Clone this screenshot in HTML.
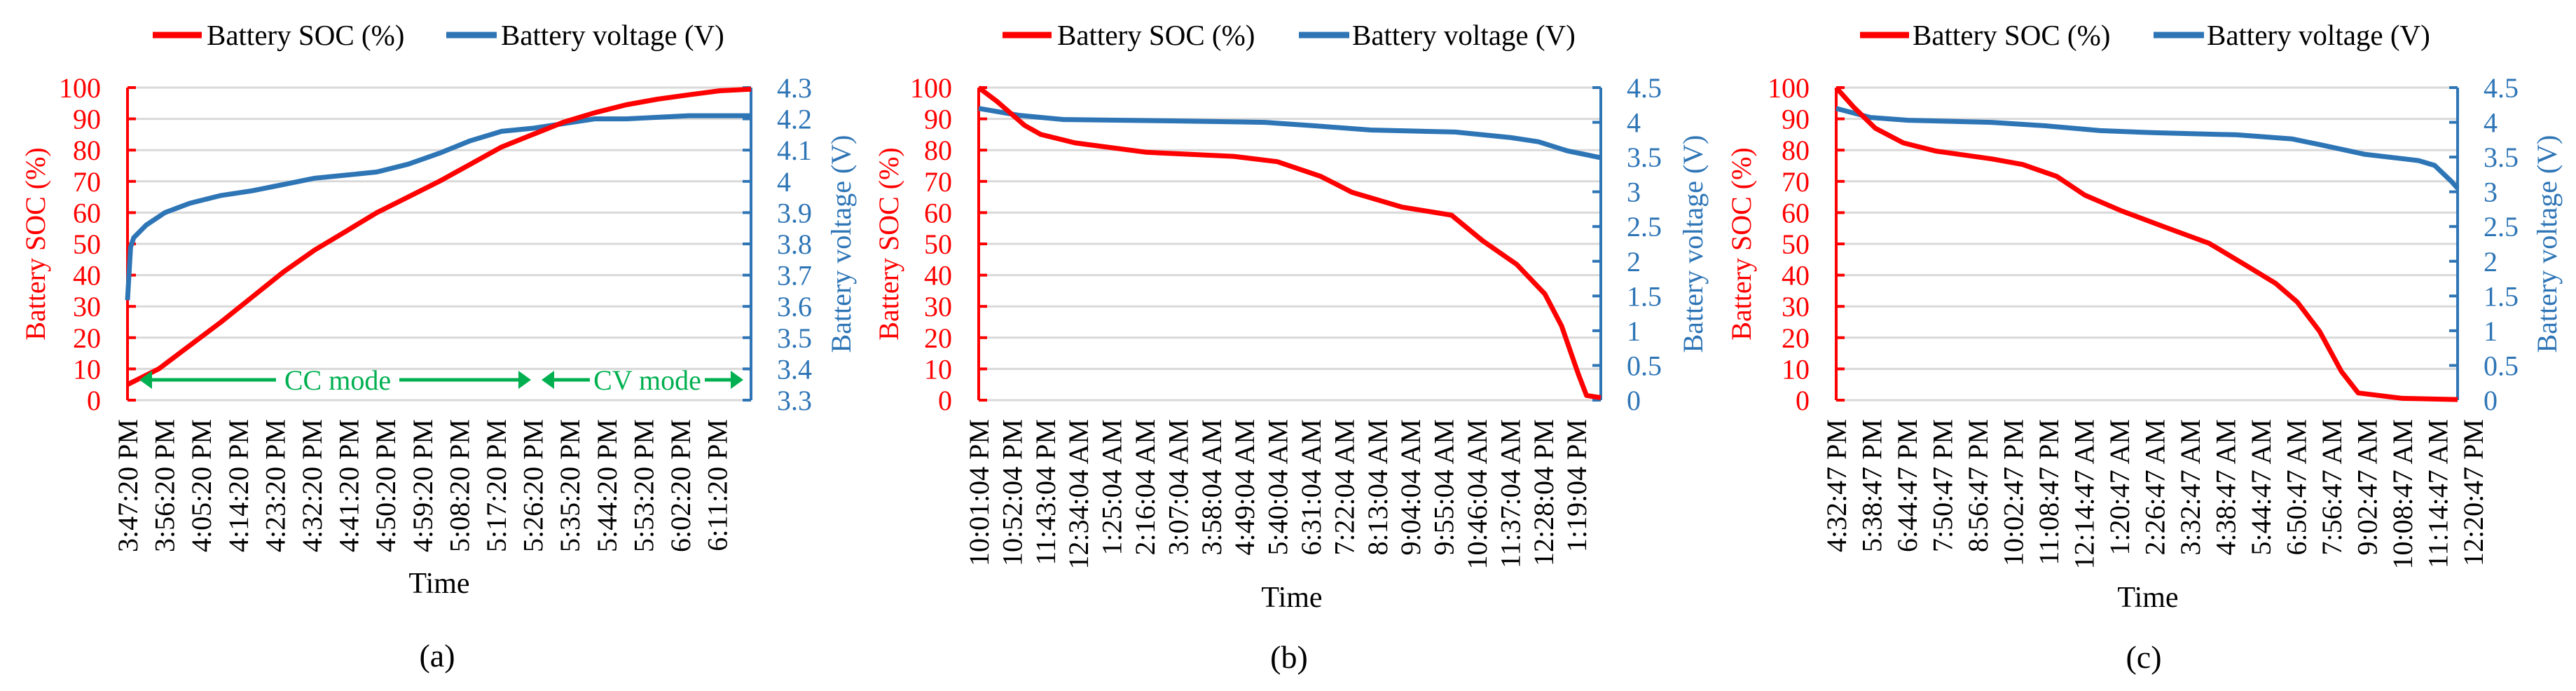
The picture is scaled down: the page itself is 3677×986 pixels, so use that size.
<!DOCTYPE html>
<html><head><meta charset="utf-8"><style>
html,body{margin:0;padding:0;background:#fff}
svg{display:block}
text{font-family:"Liberation Serif",serif}
</style></head><body>
<svg id="chart" width="3677" height="986" viewBox="0 0 3677 986" xmlns="http://www.w3.org/2000/svg"></svg>
<script>
// ---- Panel (a) data ----
const labelsA = ["3:47:20 PM","3:56:20 PM","4:05:20 PM","4:14:20 PM","4:23:20 PM","4:32:20 PM","4:41:20 PM","4:50:20 PM","4:59:20 PM","5:08:20 PM","5:17:20 PM","5:26:20 PM","5:35:20 PM","5:44:20 PM","5:53:20 PM","6:02:20 PM","6:11:20 PM"];
const socA_t = [0,0.05,0.1,0.15,0.2,0.25,0.3,0.35,0.4,0.45,0.5,0.55,0.6,0.65,0.7,0.75,0.8,0.85,0.9,0.95,1];
const socA_v = [5,10,17.5,25,33,41,48,54,60,65,70,75.5,81,85,89,92,94.5,96.3,97.7,99,99.5];
const voltA_t = [0,0.005,0.01,0.03,0.06,0.1,0.15,0.2,0.25,0.3,0.35,0.4,0.45,0.5,0.55,0.6,0.65,0.7,0.75,0.8,0.85,0.9,0.95,1];
const voltA_v = [3.62,3.79,3.82,3.86,3.90,3.93,3.955,3.97,3.99,4.01,4.02,4.03,4.055,4.09,4.13,4.16,4.17,4.185,4.20,4.20,4.205,4.21,4.21,4.21];
const rightTicksA = ["3.3","3.4","3.5","3.6","3.7","3.8","3.9","4","4.1","4.2","4.3"];
// ---- Panel (b) data ----
const labelsB = ["10:01:04 PM","10:52:04 PM","11:43:04 PM","12:34:04 AM","1:25:04 AM","2:16:04 AM","3:07:04 AM","3:58:04 AM","4:49:04 AM","5:40:04 AM","6:31:04 AM","7:22:04 AM","8:13:04 AM","9:04:04 AM","9:55:04 AM","10:46:04 AM","11:37:04 AM","12:28:04 PM","1:19:04 PM"];
const socB_t = [0,0.03,0.074,0.10,0.155,0.27,0.41,0.48,0.55,0.60,0.68,0.76,0.81,0.865,0.91,0.937,0.964,0.977,1];
const socB_v = [100,95.5,87.9,85,82.3,79.3,78,76.3,71.6,66.5,61.8,59.2,51,43.4,34,23.7,8.3,1.5,0.8];
const voltB_t = [0,0.065,0.137,0.32,0.46,0.54,0.63,0.766,0.856,0.90,0.946,1];
const voltB_v = [4.20,4.10,4.04,4.02,4.0,3.95,3.89,3.86,3.78,3.72,3.59,3.49];
// ---- Panel (c) data ----
const labelsC = ["4:32:47 PM","5:38:47 PM","6:44:47 PM","7:50:47 PM","8:56:47 PM","10:02:47 PM","11:08:47 PM","12:14:47 AM","1:20:47 AM","2:26:47 AM","3:32:47 AM","4:38:47 AM","5:44:47 AM","6:50:47 AM","7:56:47 AM","9:02:47 AM","10:08:47 AM","11:14:47 AM","12:20:47 PM"];
const socC_t = [0,0.028,0.063,0.108,0.16,0.25,0.30,0.355,0.40,0.46,0.53,0.60,0.654,0.707,0.742,0.778,0.813,0.84,0.91,1];
const socC_v = [100,93.8,87,82.3,79.7,77.2,75.4,71.6,65.6,60.5,55.3,50.2,43.8,37.4,31.4,22,9.2,2.3,0.6,0.2];
const voltC_t = [0,0.055,0.116,0.25,0.337,0.425,0.513,0.645,0.734,0.778,0.85,0.937,0.963,0.99,1];
const voltC_v = [4.20,4.07,4.03,4.0,3.95,3.88,3.85,3.82,3.76,3.68,3.54,3.45,3.38,3.15,3.05];
const rightTicksBC = ["0","0.5","1","1.5","2","2.5","3","3.5","4","4.5"];
const leftTicks = ["0","10","20","30","40","50","60","70","80","90","100"];

const NS = "http://www.w3.org/2000/svg";
const svg = document.getElementById('chart');
const RED = "#ff0000", BLUE = "#2e75b6", GREEN = "#00b050";
const TOP = 125, BOT = 571;
function mk(tag, attrs, parent){ const e=document.createElementNS(NS,tag); for(const k in attrs) e.setAttribute(k,attrs[k]); (parent||svg).appendChild(e); return e; }

const panels = [
 {id:"a", x0:182, x1:1072, labels:labelsA, labStep:52.6, rmin:3.3, rmax:4.3, rticks:rightTicksA,
  soc:[socA_t,socA_v], volt:[voltA_t,voltA_v], leg:[218,295,637,715], ltitle:50, rtitle:1200, time:[627,832], cap:[624,935]},
 {id:"b", x0:1397, x1:2285, labels:labelsB, labStep:47.4, rmin:0, rmax:4.5, rticks:rightTicksBC,
  soc:[socB_t,socB_v], volt:[voltB_t,voltB_v], leg:[1431,1509,1854,1930], ltitle:1268, rtitle:2416, time:[1844,852], cap:[1840,937]},
 {id:"c", x0:2621, x1:3508, labels:labelsC, labStep:50.5, rmin:0, rmax:4.5, rticks:rightTicksBC,
  soc:[socC_t,socC_v], volt:[voltC_t,voltC_v], leg:[2655,2730,3074,3150], ltitle:2485, rtitle:3635, time:[3066,852], cap:[3060,937]}
];

panels.forEach(p=>{
  const g = mk('g',{});
  
  
  const xs = t => p.x0 + t*(p.x1-p.x0);
  const yl = v => BOT - v/100*(BOT-TOP);
  const yr = v => BOT - (v-p.rmin)/(p.rmax-p.rmin)*(BOT-TOP);
  // legend
  const lg = mk('g',{},g);
  
  
  const l1 = mk('line',{x1:p.leg[0],x2:p.leg[0]+70,y1:50,y2:50,stroke:RED,'stroke-width':9},lg);
  
  
  const t1 = mk('text',{x:p.leg[1],y:64,'font-size':41,fill:'#000'},lg); t1.textContent="Battery SOC (%)";
  
  
  const l2 = mk('line',{x1:p.leg[2],x2:p.leg[2]+72,y1:50,y2:50,stroke:BLUE,'stroke-width':9},lg);
  
  
  const t2 = mk('text',{x:p.leg[3],y:64,'font-size':41,fill:'#000'},lg); t2.textContent="Battery voltage (V)";
  
  
  // gridlines + left ticks
  leftTicks.forEach((lab,i)=>{
    const v=i*10, y=yl(v);
    const gl = mk('line',{x1:p.x0,x2:p.x1,y1:y,y2:y,stroke:'#d9d9d9','stroke-width':3},g);
    
    
    mk('line',{x1:p.x0,x2:p.x0+12,y1:y,y2:y,stroke:RED,'stroke-width':4},g);
    const tt = mk('text',{x:p.x0-38,y:y+14,'font-size':40,fill:RED,'text-anchor':'end'},g); tt.textContent=lab;
    
    
  });
  p.rticks.forEach((lab,i)=>{
    const v=parseFloat(lab), y=yr(v);
    mk('line',{x1:p.x1-12,x2:p.x1,y1:y,y2:y,stroke:BLUE,'stroke-width':4},g);
    const tt = mk('text',{x:p.x1+37,y:y+14,'font-size':40,fill:BLUE},g); tt.textContent=lab;
    
    
  });
  const la = mk('line',{x1:p.x0,x2:p.x0,y1:TOP,y2:BOT,stroke:RED,'stroke-width':4},g);
  
  
  const ra = mk('line',{x1:p.x1,x2:p.x1,y1:TOP,y2:BOT,stroke:BLUE,'stroke-width':4},g);
  
  
  // axis titles
  const lt = mk('text',{x:0,y:0,'font-size':40,fill:RED,'text-anchor':'middle',transform:`translate(${p.ltitle+14},348) rotate(-90)`},g);
  lt.textContent="Battery SOC (%)";
  
  
  const rt = mk('text',{x:0,y:0,'font-size':40,fill:BLUE,'text-anchor':'middle',transform:`translate(${p.rtitle+14},348) rotate(-90)`},g);
  rt.textContent="Battery voltage (V)";
  
  
  // x labels
  p.labels.forEach((lab,i)=>{
    const x = p.x0 + i*p.labStep;
    const tt = mk('text',{x:0,y:0,'font-size':40,fill:'#000','text-anchor':'end',transform:`translate(${x+14},598) rotate(-90)`},g);
    tt.textContent=lab;
    
    
  });
  const tm = mk('text',{x:p.time[0],y:p.time[1]+14,'font-size':42,fill:'#000','text-anchor':'middle'},g); tm.textContent="Time";
  
  
  const cp = mk('text',{x:p.cap[0],y:p.cap[1]+16,'font-size':46,fill:'#000','text-anchor':'middle'},g); cp.textContent="("+p.id+")";
  
  
  // series
  const vp = p.volt[0].map((t,i)=>xs(t).toFixed(1)+","+yr(p.volt[1][i]).toFixed(1)).join(" ");
  const vl = mk('polyline',{points:vp,fill:'none',stroke:BLUE,'stroke-width':7,'stroke-linejoin':'round'},g);
  
  
  const sp = p.soc[0].map((t,i)=>xs(t).toFixed(1)+","+yl(p.soc[1][i]).toFixed(1)).join(" ");
  const sl = mk('polyline',{points:sp,fill:'none',stroke:RED,'stroke-width':7,'stroke-linejoin':'round'},g);
  
  
});

// CC / CV annotation (panel a)
const ann = mk('g',{});


const AY = 542;
function arrowHead(x, dir){ mk('polygon',{points:`${x},${AY} ${x-dir*18},${AY-13} ${x-dir*18},${AY+13}`,fill:GREEN},ann); }
mk('line',{x1:205,x2:394,y1:AY,y2:AY,stroke:GREEN,'stroke-width':5},ann); arrowHead(199,-1);
mk('line',{x1:570,x2:752,y1:AY,y2:AY,stroke:GREEN,'stroke-width':5},ann); arrowHead(758,1);
mk('line',{x1:778,x2:842,y1:AY,y2:AY,stroke:GREEN,'stroke-width':5},ann); arrowHead(773,-1);
mk('line',{x1:1006,x2:1055,y1:AY,y2:AY,stroke:GREEN,'stroke-width':5},ann); arrowHead(1061,1);
const cc = mk('text',{x:482,y:AY+14,'font-size':40,fill:GREEN,'text-anchor':'middle'},ann); cc.textContent="CC mode";


const cv = mk('text',{x:924,y:AY+14,'font-size':40,fill:GREEN,'text-anchor':'middle'},ann); cv.textContent="CV mode";


</script>
</body></html>
